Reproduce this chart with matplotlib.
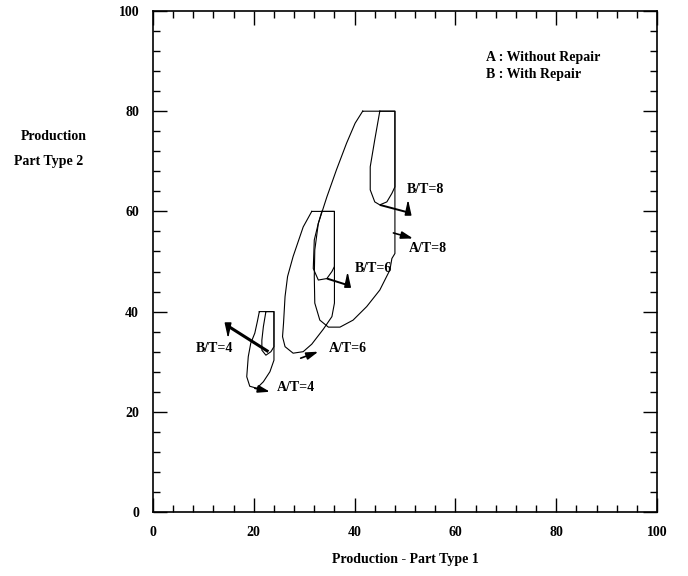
import matplotlib.pyplot as plt
from matplotlib.ticker import MultipleLocator

plt.rcParams['font.family'] = ['Liberation Serif', 'DejaVu Serif']
plt.rcParams['font.weight'] = 'bold'
plt.rcParams['font.size'] = 10

# feasible production regions (outline points, part type 1 / part type 2)
a4_x = [21.1, 24.0, 24.0, 23.2, 21.9, 20.6, 19.2, 18.6, 18.9, 19.4, 20.2, 20.7, 21.1]
a4_y = [40.0, 40.0, 30.3, 28.0, 26.0, 24.7, 25.1, 27.0, 31.0, 33.7, 35.7, 38.0, 40.0]
b4_x = [22.4, 24.0, 24.0, 23.4, 22.4, 21.6, 21.6, 21.9, 22.4]
b4_y = [40.0, 40.0, 33.0, 32.0, 31.3, 32.3, 34.3, 37.0, 40.0]

a6_x = [31.5, 36.0, 36.0, 35.5, 33.8, 31.5, 29.8, 27.8, 26.2, 25.7, 25.9, 26.2, 26.7, 27.8, 29.8, 31.5]
a6_y = [60.0, 60.0, 41.7, 39.0, 36.5, 33.5, 32.0, 31.7, 33.0, 35.0, 37.7, 43.0, 47.0, 51.0, 56.9, 60.0]
b6_x = [33.5, 36.0, 36.0, 35.5, 34.5, 32.8, 31.8, 32.0, 32.8, 33.5]
b6_y = [60.0, 60.0, 49.0, 48.0, 46.6, 46.3, 48.6, 54.3, 57.6, 60.0]

a8_x = [41.6, 48.0, 48.0, 47.4, 47.0, 45.0, 42.4, 39.7, 37.1, 34.8, 33.1, 32.1, 32.0, 32.1,
        32.8, 34.5, 36.4, 38.4, 40.1, 41.6]
a8_y = [80.0, 80.0, 51.6, 50.6, 48.3, 44.3, 41.0, 38.3, 36.9, 36.9, 38.3, 41.7, 47.0, 52.3,
        57.6, 62.9, 68.3, 73.6, 77.6, 80.0]
b8_x = [45.0, 48.0, 48.0, 47.4, 46.4, 45.0, 44.0, 43.1, 43.1, 44.0, 45.0]
b8_y = [80.0, 80.0, 64.9, 63.6, 61.9, 61.3, 61.9, 64.3, 68.9, 74.3, 80.0]

# direction vectors: (x0, y0, x1, y1)
a_arrows = [(20.2, 24.7, 23.2, 24.0), (29.3, 30.7, 32.8, 32.0), (47.7, 55.7, 51.6, 54.6)]
# with repair: line then a vertical head ending at head_y
b_arrows = [(22.9, 32.0, 14.9, 37.1), (34.5, 46.6, 38.6, 45.3), (45.0, 61.3, 50.6, 59.8)]
b_head_y = [34.6, 48.0, 62.4]
b_widths = [2.2, 1.4, 1.4]

labels = ['A/T=4', 'B/T=4', 'A/T=6', 'B/T=6', 'A/T=8', 'B/T=8']
label_pos = [(24.5, 24.8), (8.4, 32.7), (34.8, 32.7), (40.1, 48.6), (50.7, 52.6), (50.3, 64.3)]

fig = plt.figure(figsize=(6.88, 5.76), dpi=100)
ax = fig.add_axes([153 / 688, 64 / 576, 504 / 688, 501 / 576])

for xs, ys in [(a4_x, a4_y), (b4_x, b4_y), (a6_x, a6_y), (b6_x, b6_y), (a8_x, a8_y), (b8_x, b8_y)]:
    ax.plot(xs, ys, color='black', lw=0.8)

for x0, y0, x1, y1 in a_arrows:
    ax.annotate('', xy=(x1, y1), xytext=(x0, y0),
                arrowprops=dict(arrowstyle='-|>,head_length=0.7,head_width=0.22',
                                color='black', lw=1.2, shrinkA=0, shrinkB=0))

for (x0, y0, x1, y1), hy, w in zip(b_arrows, b_head_y, b_widths):
    ax.plot([x0, x1], [y0, y1], color='black', lw=w, solid_capstyle='butt')
    ax.annotate('', xy=(x1, hy), xytext=(x1, y1),
                arrowprops=dict(arrowstyle='-|>,head_length=0.9,head_width=0.2',
                                color='black', lw=1.0, shrinkA=0, shrinkB=0))

for txt, (x, y) in zip(labels, label_pos):
    ax.text(x, y, txt, ha='left', va='center')

ax.text(66.1, 90.8, 'A : Without Repair', ha='left', va='center')
ax.text(66.1, 87.4, 'B : With Repair', ha='left', va='center')

ax.set_xlim(0, 100)
ax.set_ylim(0, 100)
ax.xaxis.set_major_locator(MultipleLocator(20))
ax.yaxis.set_major_locator(MultipleLocator(20))
ax.xaxis.set_minor_locator(MultipleLocator(4))
ax.yaxis.set_minor_locator(MultipleLocator(4))
ax.tick_params(which='both', direction='in', top=True, right=True, width=1.0, pad=10)
ax.tick_params(which='major', length=10)
ax.tick_params(which='minor', length=5)
for s in ax.spines.values():
    s.set_linewidth(1.2)

fig.text(405 / 688, 1 - 560 / 576, 'Production - Part Type 1', ha='center', va='center')
fig.text(54 / 688, 1 - 137 / 576, 'Production', ha='center', va='center')
fig.text(49 / 688, 1 - 161 / 576, 'Part Type 2', ha='center', va='center')

fig.savefig('out.png', dpi=100)
